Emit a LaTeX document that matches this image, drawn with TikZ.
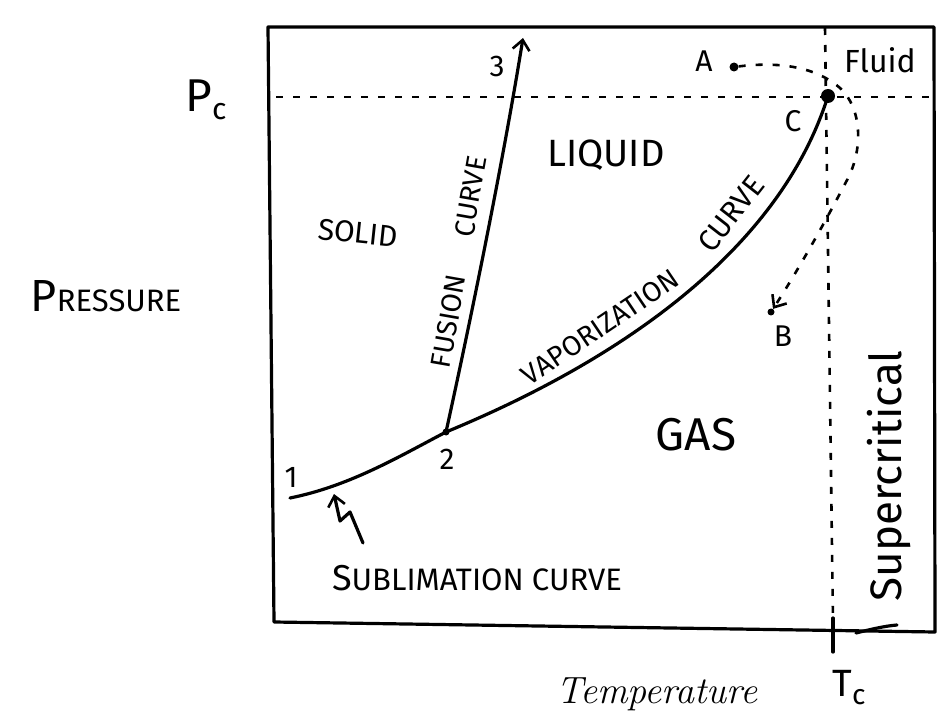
\documentclass[tikz,border=0pt]{standalone}
\usepackage{fontspec}
\newfontfamily\hand{Fira Sans}
\usetikzlibrary{arrows.meta}
\newcommand{\myfs}[1]{\fontsize{#1}{#1}\selectfont}
\begin{document}
\begin{tikzpicture}[x=1pt,y=-1pt,
  ink/.style={line width=3.2pt,line cap=round,line join=round},
  dashline/.style={line width=2.6pt,dash pattern=on 7pt off 10pt},
  barb/.style={-{Straight Barb[length=10pt,width=17pt,line width=2.6pt]}},
  lab/.style={inner sep=0pt,font=\hand\myfs{30}},
  dot/.style={circle,fill,inner sep=0pt,minimum size=#1},
]
\useasboundingbox (0,0) rectangle (937,727);
% frame
\coordinate (tl) at (268,27);
\coordinate (tr) at (934,27);
\coordinate (br) at (935,632);
\coordinate (bl) at (274,622);
\draw[ink] (tl) -- (tr) -- (br) -- (bl) -- cycle;
% key points
\coordinate (p1) at (290,498);
\coordinate (p2) at (446,432);
\coordinate (p3) at (523,38);
\node[dot=14pt] (C) at (828,96) {};
\node[dot=9pt] (A) at (734,67) {};
\node[dot=7pt] (B) at (771,312) {};
\node[dot=7pt] (two) at (p2) {};
% critical lines
\coordinate (pcl) at (276,97);
\coordinate (pcr) at (932,97);
\coordinate (tct) at (825,28);
\coordinate (tcb) at (833,622);
\draw[dashline] (pcl) -- (pcr);
\draw[dashline] (tct) -- (tcb);
\coordinate (tick1) at (833,618);
\coordinate (tick2) at (833,652);
\draw[ink] (tick1) -- (tick2);
\coordinate (h1) at (856,633);
\coordinate (h2) at (897,625);
\draw[ink] (h1) .. controls (872,629) and (885,626) .. (h2);
% curves
\draw[ink] (p1) .. controls (350,486) and (400,456) .. (two.center);
\draw[ink] (two.center) .. controls (560,385) and (770,280) .. (C.center);
\draw[ink,barb] (two.center) .. controls (475,300) and (505,150) .. (p3);
% path A -> C -> B
\draw[dashline,barb] (A) .. controls (790,60) and (822,72) .. (840,88)
  .. controls (862,108) and (864,150) .. (846,182)
  .. controls (822,228) and (795,275) .. (B);
% sublimation pointer
\coordinate (s1) at (363,543);
\coordinate (s2) at (350,512);
\coordinate (s3) at (340,521);
\coordinate (s4) at (334,494);
\draw[ink,barb] (s1) -- (s2) -- (s3) -- (s4);
% labels
\node[lab,font=\hand\myfs{46}] (pc) at (206,100) {P\raisebox{-8pt}{\myfs{30}c}};
\node[lab,font=\hand\myfs{38}] (tc) at (849,688) {T\raisebox{-8pt}{\myfs{28}c}};
\node[lab] (pressure) at (106,296) {{\myfs{45}P}\myfs{31}RESSURE};
\node[lab,font=\itshape\myfs{38}] (temp) at (657,694) {Temperature};
\node[lab,rotate=-6] (solid) at (358,233) {SOLID};
\node[lab,font=\hand\myfs{38}] (liquid) at (606,155) {LIQUID};
\node[lab,font=\hand\myfs{46}] (gas) at (696,435) {GAS};
\node[lab,font=\hand\myfs{31}] (subl) at (477,578) {{\myfs{36}S}UBLIMATION CURVE};
\node[lab,font=\hand\myfs{28},rotate=80] (fusion) at (459,262) {FUSION\hspace{1.4em}CURVE};
\node[lab,font=\hand\myfs{28},rotate=34] (vap) at (600,327) {VAPORIZATION};
\node[lab,font=\hand\myfs{30},rotate=52] (vcurve) at (731,214) {CURVE};
\node[lab,font=\hand\myfs{32}] (fluid) at (880,60) {Fluid};
\node[lab,font=\hand\myfs{44},rotate=90] (super) at (889,476) {Supercritical};
\node[lab] (l1) at (291,477) {1};
\node[lab] (l2) at (447,459) {2};
\node[lab] (l3) at (497,66) {3};
\node[lab] (lA) at (704,61) {A};
\node[lab] (lC) at (793,121) {C};
\node[lab] (lB) at (783,336) {B};
\end{tikzpicture}
\end{document}
